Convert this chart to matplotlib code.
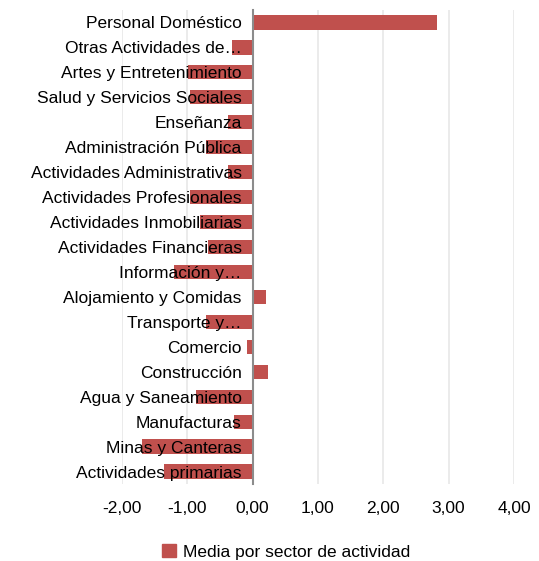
import matplotlib
matplotlib.use("Agg")
import matplotlib.pyplot as plt
from matplotlib.patches import Patch

# data (bottom to top, as in the chart)
sectores = [
    "Actividades primarias",
    "Minas y Canteras",
    "Manufacturas",
    "Agua y Saneamiento",
    "Construcción",
    "Comercio",
    "Transporte y…",
    "Alojamiento y Comidas",
    "Información y…",
    "Actividades Financieras",
    "Actividades Inmobiliarias",
    "Actividades Profesionales",
    "Actividades Administrativas",
    "Administración Pública",
    "Enseñanza",
    "Salud y Servicios Sociales",
    "Artes y Entretenimiento",
    "Otras Actividades de…",
    "Personal Doméstico",
]
media = [-1.35, -1.69, -0.29, -0.87, 0.23, -0.08, -0.72, 0.21, -1.21, -0.68,
         -0.80, -0.96, -0.38, -0.72, -0.38, -0.96, -0.99, -0.32, 2.82]
xticks = [-2, -1, 0, 1, 2, 3, 4]
serie = "Media por sector de actividad"

color_barra = "#C0504D"
fs = 12.5
plt.rcParams["font.family"] = ["Liberation Sans", "DejaVu Sans"]

fig = plt.figure(figsize=(5.39, 5.61), dpi=100)
ax = fig.add_axes([122 / 539, 1 - 484 / 561, 392 / 539, 474 / 561])

# y axis sits on zero; set this first since it resets the ticks
for s in ["top", "right", "bottom"]:
    ax.spines[s].set_visible(False)
ax.spines["left"].set_position(("data", 0))
ax.spines["left"].set_color("#8C8C8C")
ax.spines["left"].set_linewidth(1.5)
ax.spines["left"].set_zorder(3)

pos = list(range(len(sectores)))
ax.barh(pos, media, height=0.57, color=color_barra, zorder=1)

# light vertical gridlines
for t in xticks:
    if t != 0:
        ax.axvline(t, color="#E8E8E8", lw=1.2, zorder=0)

ax.set_xlim(-2, 4)
ax.set_ylim(-0.5, len(sectores) - 0.5)
ax.set_xticks(xticks)
ax.set_xticklabels([f"{t:.2f}".replace(".", ",") for t in xticks])
ax.set_yticks(pos)
ax.set_yticklabels(sectores)
ax.tick_params(axis="x", length=0, pad=12, labelsize=fs)
ax.tick_params(axis="y", length=0, pad=8, labelsize=fs)

fig.legend(handles=[Patch(color=color_barra, label=serie)],
           loc="center", bbox_to_anchor=(286 / 539, 1 - 552 / 561),
           frameon=False, fontsize=fs, handlelength=0.8, handleheight=0.8,
           handletextpad=0.4)

fig.savefig("out.png", dpi=100)
